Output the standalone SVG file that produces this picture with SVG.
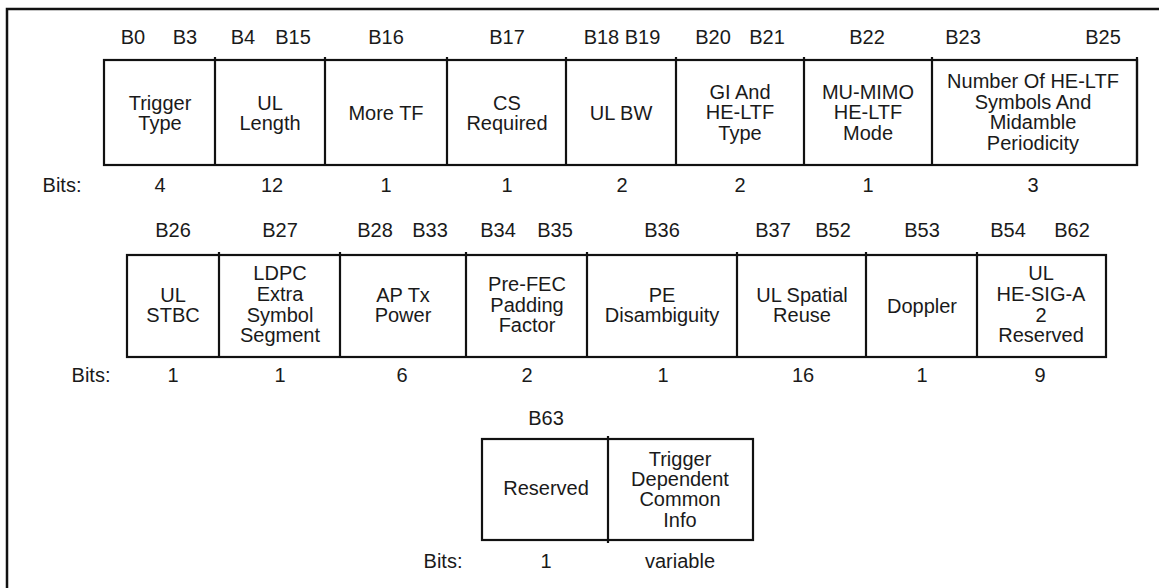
<svg xmlns="http://www.w3.org/2000/svg" width="1159" height="588" viewBox="0 0 1159 588">
<style>
text{font-family:"Liberation Sans",Arial,sans-serif;font-size:20px;fill:#1a1a1a;text-anchor:middle;dominant-baseline:central}
.box{fill:none;stroke:#111;stroke-width:2.2}
.div{stroke:#111;stroke-width:2.2}
.frame{stroke:#111;stroke-width:2.5;fill:none}
</style>
<rect width="1159" height="588" fill="#fff"/>
<g id="frame"><path class="frame" d="M7,588 V9 H1159"/></g>

<g id="row1-labels">
<text x="133" y="37">B0</text><text x="185" y="37">B3</text>
<text x="243" y="37">B4</text><text x="293" y="37">B15</text>
<text x="386" y="37">B16</text>
<text x="507" y="37">B17</text>
<text x="622" y="37">B18 B19</text>
<text x="713" y="37">B20</text><text x="767" y="37">B21</text>
<text x="867" y="37">B22</text>
<text x="963" y="37">B23</text><text x="1103" y="37">B25</text>
</g>
<g id="row1-box">
<rect class="box" x="104" y="60" width="1033" height="105"/>
<path class="div" d="M215,57V166M325,57V166M447,57V166M566,57V166M676,57V166M804,57V166M932,57V166M1137,57V166"/>
</g>
<g id="n-trigger-type"><text x="160" y="103">Trigger</text><text x="160" y="123">Type</text></g>
<g id="n-ul-length"><text x="270" y="103">UL</text><text x="270" y="123">Length</text></g>
<g id="n-more-tf"><text x="386" y="113">More TF</text></g>
<g id="n-cs-required"><text x="507" y="103">CS</text><text x="507" y="123">Required</text></g>
<g id="n-ul-bw"><text x="621" y="113">UL BW</text></g>
<g id="n-gi"><text x="740" y="92">GI And</text><text x="740" y="112">HE-LTF</text><text x="740" y="133">Type</text></g>
<g id="n-mumimo"><text x="868" y="92">MU-MIMO</text><text x="868" y="112">HE-LTF</text><text x="868" y="133">Mode</text></g>
<g id="n-num-heltf"><text x="1033" y="81">Number Of HE-LTF</text><text x="1033" y="102">Symbols And</text><text x="1033" y="122">Midamble</text><text x="1033" y="143">Periodicity</text></g>
<g id="row1-bits">
<text x="62" y="185">Bits:</text>
<text x="160" y="185">4</text><text x="272" y="185">12</text><text x="386" y="185">1</text><text x="507" y="185">1</text>
<text x="622" y="185">2</text><text x="740" y="185">2</text><text x="868" y="185">1</text><text x="1033" y="185">3</text>
</g>

<g id="row2-labels">
<text x="173" y="230">B26</text>
<text x="280" y="230">B27</text>
<text x="375" y="230">B28</text><text x="430" y="230">B33</text>
<text x="498" y="230">B34</text><text x="555" y="230">B35</text>
<text x="662" y="230">B36</text>
<text x="773" y="230">B37</text><text x="833" y="230">B52</text>
<text x="922" y="230">B53</text>
<text x="1008" y="230">B54</text><text x="1072" y="230">B62</text>
</g>
<g id="row2-box">
<rect class="box" x="127" y="255" width="979" height="102"/>
<path class="div" d="M219,252V358M340,252V358M466,252V358M587,252V358M737,252V358M866,252V358M977,252V358"/>
</g>
<g id="n-ul-stbc"><text x="173" y="295">UL</text><text x="173" y="315">STBC</text></g>
<g id="n-ldpc"><text x="280" y="273">LDPC</text><text x="280" y="294">Extra</text><text x="280" y="315">Symbol</text><text x="280" y="335">Segment</text></g>
<g id="n-ap-tx"><text x="403" y="295">AP Tx</text><text x="403" y="315">Power</text></g>
<g id="n-prefec"><text x="527" y="284">Pre-FEC</text><text x="527" y="305">Padding</text><text x="527" y="325">Factor</text></g>
<g id="n-pe"><text x="662" y="295">PE</text><text x="662" y="315">Disambiguity</text></g>
<g id="n-ul-sr"><text x="802" y="295">UL Spatial</text><text x="802" y="315">Reuse</text></g>
<g id="n-doppler"><text x="922" y="306">Doppler</text></g>
<g id="n-ul-hesiga"><text x="1041" y="273">UL</text><text x="1041" y="294">HE-SIG-A</text><text x="1041" y="315">2</text><text x="1041" y="335">Reserved</text></g>
<g id="row2-bits">
<text x="91" y="375">Bits:</text>
<text x="173" y="375">1</text><text x="280" y="375">1</text><text x="402" y="375">6</text><text x="527" y="375">2</text>
<text x="663" y="375">1</text><text x="803" y="375">16</text><text x="922" y="375">1</text><text x="1040" y="375">9</text>
</g>

<g id="row3-labels"><text x="546" y="418">B63</text></g>
<g id="row3-box">
<rect class="box" x="482" y="439" width="271" height="101"/>
<path class="div" d="M608,436V543"/>
</g>
<g id="n-reserved"><text x="546" y="488">Reserved</text></g>
<g id="n-tdci"><text x="680" y="459">Trigger</text><text x="680" y="479">Dependent</text><text x="680" y="499">Common</text><text x="680" y="520">Info</text></g>
<g id="row3-bits">
<text x="443" y="561">Bits:</text><text x="546" y="561">1</text><text x="680" y="561">variable</text>
</g>
<g id="connectors"/>
</svg>
